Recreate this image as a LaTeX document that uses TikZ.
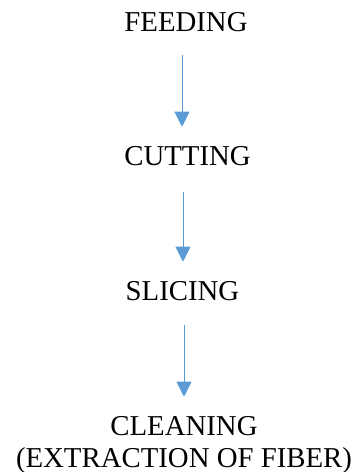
\documentclass[tikz,border=0pt]{standalone}
\usepackage{fontspec}
\setmainfont{Liberation Serif}
\usetikzlibrary{arrows.meta}
\definecolor{arrowblue}{HTML}{5B9BD5}
\tikzset{
  stepnode/.style={inner sep=0pt, anchor=base, align=center, font=\fontsize{28.8}{32}\selectfont},
  arr/.style={draw=arrowblue, line width=1pt, -{Triangle[width=15pt,length=15pt,fill=arrowblue]}}
}
\begin{document}
\begin{tikzpicture}
\useasboundingbox (0pt,0pt) rectangle (357pt,-472pt);
\node[stepnode] (feeding) at (186pt,-31pt) {FEEDING};
\node[stepnode] (cutting) at (187.5pt,-165pt) {CUTTING};
\node[stepnode] (slicing) at (182.5pt,-300pt) {SLICING};
\node[stepnode] (cleaning) at (184pt,-467pt) {CLEANING\\(EXTRACTION OF FIBER)};
\draw[arr] ([xshift=-4pt,yshift=-24pt]feeding.south) -- ([xshift=-5.5pt,yshift=19pt]cutting.north);
\draw[arr] ([xshift=-4.5pt,yshift=-27pt]cutting.south) -- ([xshift=0.5pt,yshift=19pt]slicing.north);
\draw[arr] ([xshift=1.5pt,yshift=-25pt]slicing.south) -- ([xshift=0pt,yshift=19pt]cleaning.north);
\end{tikzpicture}
\end{document}
